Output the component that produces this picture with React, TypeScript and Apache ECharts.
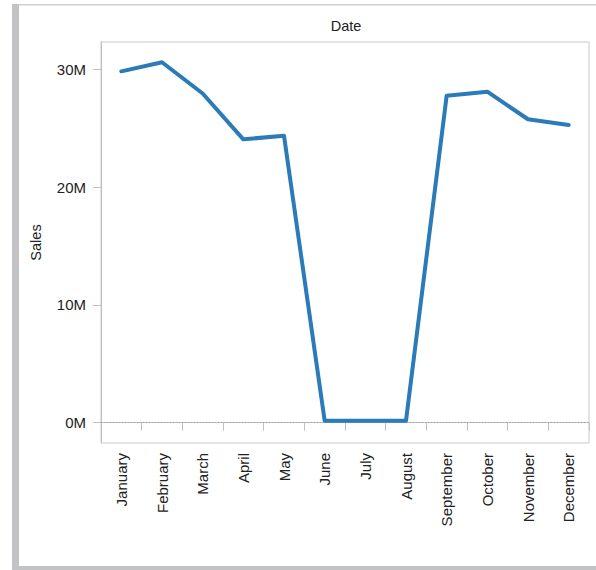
import React, { useEffect, useRef } from "react";
import * as echarts from "echarts";

const months = [
  "January", "February", "March", "April", "May", "June",
  "July", "August", "September", "October", "November", "December",
];
const sales = [
  29830000, 30600000, 27950000, 24060000, 24360000, 170000,
  170000, 170000, 27760000, 28100000, 25760000, 25270000,
];
const yTicks = [0, 10000000, 20000000, 30000000];
const xAxisTitle = "Date";
const yAxisTitle = "Sales";

const FONT = "'Liberation Sans', Arial, sans-serif";
const TEXT = "#222222";
const FS = 14.5;

export default function App() {
  const ref = useRef<HTMLDivElement>(null);
  useEffect(() => {
    document.body.style.margin = "0";
    const chart = echarts.init(ref.current!, null, { renderer: "svg" });
    chart.setOption({
      animation: false,
      backgroundColor: "#ffffff",
      textStyle: { fontFamily: FONT },
      graphic: [
        { type: "rect", shape: { x: 12, y: 4, width: 584, height: 1.5 }, style: { fill: "#cfcfd1" } },
        { type: "rect", shape: { x: 12, y: 4, width: 7, height: 566 }, style: { fill: "#c2c3c6" } },
        { type: "rect", shape: { x: 12, y: 566, width: 584, height: 4 }, style: { fill: "#c2c3c6" } },
        {
          type: "text",
          x: 346,
          y: 26,
          style: {
            text: xAxisTitle,
            fill: TEXT,
            font: `${FS}px ${FONT}`,
            textAlign: "center",
            textVerticalAlign: "middle",
          },
        },
      ],
      grid: {
        left: 101,
        top: 42,
        right: 7,
        bottom: 127,
        show: true,
        borderColor: "#c8c8c8",
        borderWidth: 1,
        containLabel: false,
      },
      xAxis: {
        type: "category",
        data: months,
        boundaryGap: true,
        axisLine: { show: true, lineStyle: { color: "#c0c0c0", width: 1 } },
        axisTick: { show: true, length: 8, alignWithLabel: false, lineStyle: { color: "#c0c0c0" } },
        axisLabel: {
          rotate: 90,
          margin: 10,
          interval: 0,
          color: TEXT,
          fontSize: 15,
          fontFamily: FONT,
        },
        splitLine: { show: false },
      },
      yAxis: {
        type: "value",
        min: -1720000,
        max: 32320000,
        name: yAxisTitle,
        nameLocation: "middle",
        nameGap: 58,
        nameRotate: 90,
        nameTextStyle: { color: TEXT, fontSize: FS, fontFamily: FONT },
        axisLine: { show: true, lineStyle: { color: "#c0c0c0" } },
        axisTick: {
          show: true,
          length: 8,
          customValues: yTicks,
          lineStyle: { color: "#c0c0c0" },
        },
        axisLabel: {
          customValues: yTicks,
          margin: 15,
          color: TEXT,
          fontSize: 15,
          fontFamily: FONT,
          formatter: (v: number) => `${Math.round(v / 1000000)}M`,
        },
        splitLine: { show: false },
      },
      series: [
        {
          type: "line",
          data: sales,
          symbol: "none",
          lineStyle: { color: "#2a7bb8", width: 4, join: "round", cap: "round" },
          itemStyle: { color: "#2a7bb8" },
          z: 3,
          markLine: {
            silent: true,
            symbol: "none",
            label: { show: false },
            lineStyle: { color: "#a0a0a0", type: [1, 2], width: 1 },
            data: [{ yAxis: 0 }],
            z: 1,
          },
        },
      ],
    });
    return () => chart.dispose();
  }, []);
  return (
    <div
      ref={ref}
      style={{ position: "absolute", left: 0, top: 0, width: 596, height: 570 }}
    />
  );
}
